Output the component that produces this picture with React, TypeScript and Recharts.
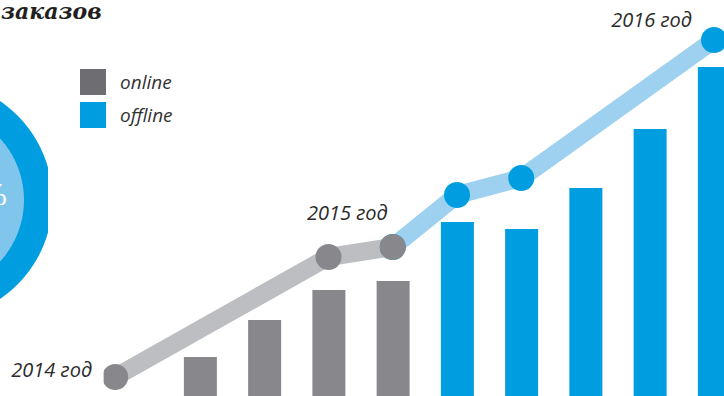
import { ComposedChart, Bar, Line, XAxis, YAxis, LabelList, Legend, PieChart, Pie } from 'recharts';

// x positions (bar slots), the first point is the 2014 start of the trend line
const xPositions = [-1.32, 0, 1, 2, 3, 4, 5, 6, 7, 8];
const onlineBars = [null, 43, 80, 110, 119, null, null, null, null, null];
const offlineBars = [null, null, null, null, null, 178, 171, 212, 271, 333];
const onlineTrend = [23, null, null, 143, 153, null, null, null, null, null];
const offlineTrend = [null, null, null, null, 153, 205, 222, null, null, 360];
const yearLabels = ['2014 год', '', '', '', '2015 год', '', '', '', '', '2016 год'];
const legendOrder = ['online', 'offline'];
const donutShare = [{ name: 'offline', value: 1 }];

const GRAY_BAR = '#88888c';
const BLUE_BAR = '#009ee0';
const GRAY_LINE = '#bdbec1';
const BLUE_LINE = '#9ed1ef';
const LEGEND_COLORS: Record<string, string> = { online: '#6e6e72', offline: '#009ee0' };

const LABEL_OFFSET: Record<string, { dx: number; dy: number }> = {
  '2014 год': { dx: -23, dy: 0 },
  '2015 год': { dx: -5, dy: -27 },
  '2016 год': { dx: -22, dy: -13 },
};

const chartData = xPositions.map((x, i) => ({
  x,
  online: onlineBars[i],
  offline: offlineBars[i],
  onlineTrend: onlineTrend[i],
  offlineTrend: offlineTrend[i],
  year: yearLabels[i],
}));

const yearLabel = (skip: (i: number) => boolean) => (props: any) => {
  const { x, y, value, index } = props;
  if (!value || y == null || skip(index)) return null;
  const off = LABEL_OFFSET[value] || { dx: 0, dy: 0 };
  return (
    <text
      x={x + off.dx}
      y={y + off.dy}
      textAnchor="end"
      fill="#2b2b2b"
      style={{ font: 'italic 20px "Open Sans", sans-serif' }}
    >
      {value}
    </text>
  );
};

function LegendBox({ payload }: any) {
  const items = legendOrder
    .map((key) => (payload || []).find((p: any) => p.dataKey === key))
    .filter(Boolean);
  return (
    <div>
      {items.map((entry: any) => (
        <div key={entry.value} style={{ display: 'flex', alignItems: 'center', height: 26, marginBottom: 7 }}>
          <span style={{ width: 26, height: 26, background: LEGEND_COLORS[entry.value] || entry.color }} />
          <span
            style={{
              marginLeft: 14,
              font: 'italic 19px "Open Sans", sans-serif',
              lineHeight: '26px',
              color: '#333',
            }}
          >
            {entry.value}
          </span>
        </div>
      ))}
    </div>
  );
}

export default function App() {
  return (
    <div style={{ position: 'absolute', left: 0, top: 0, width: 724, height: 396, overflow: 'hidden', background: '#fff' }}>
      <div
        style={{
          position: 'absolute',
          left: 1,
          top: 1,
          font: 'italic bold 22px "DejaVu Serif", serif',
          lineHeight: '20px',
          color: '#231f20',
          whiteSpace: 'nowrap',
        }}
      >
        заказов
      </div>

      <div style={{ position: 'absolute', left: -192.5, top: 75 }}>
        <PieChart width={240} height={240}>
          <Pie data={donutShare} dataKey="value" cx={120} cy={120} innerRadius={0} outerRadius={92} fill="#80c5ec" stroke="none" isAnimationActive={false} />
          <Pie data={donutShare} dataKey="value" cx={120} cy={120} innerRadius={91} outerRadius={119.5} fill="#009ee0" stroke="none" isAnimationActive={false} />
        </PieChart>
      </div>
      <div
        style={{
          position: 'absolute',
          left: -60,
          top: 178,
          width: 67,
          textAlign: 'right',
          font: '32px "Liberation Serif", serif',
          lineHeight: '32px',
          color: '#fff',
        }}
      >
        %
      </div>

      <div style={{ position: 'absolute', left: 0, top: 0 }}>
        <ComposedChart width={780} height={400} data={chartData} margin={{ top: 0, right: 33.875, bottom: 0, left: 103.625 }}>
          <XAxis dataKey="x" type="number" domain={[-1.5, 8.5]} hide allowDataOverflow />
          <YAxis type="number" domain={[0, 400]} hide allowDataOverflow />
          <Legend
            layout="vertical"
            align="center"
            verticalAlign="middle"
            content={<LegendBox />}
            wrapperStyle={{ left: 80, top: 69, width: 120, height: 66 }}
          />
          <Bar dataKey="online" name="online" stackId="bars" fill={GRAY_BAR} barSize={33} isAnimationActive={false} />
          <Bar dataKey="offline" name="offline" stackId="bars" fill={BLUE_BAR} barSize={33} isAnimationActive={false} />
          <Line
            dataKey="offlineTrend"
            stroke={BLUE_LINE}
            strokeWidth={18}
            strokeLinejoin="round"
            connectNulls
            legendType="none"
            dot={{ r: 13, fill: BLUE_BAR, stroke: 'none' }}
            activeDot={false}
            isAnimationActive={false}
          >
            <LabelList dataKey="year" content={yearLabel((i) => onlineTrend[i] != null)} />
          </Line>
          <Line
            dataKey="onlineTrend"
            stroke={GRAY_LINE}
            strokeWidth={18}
            strokeLinejoin="round"
            connectNulls
            legendType="none"
            dot={{ r: 13, fill: GRAY_BAR, stroke: 'none' }}
            activeDot={false}
            isAnimationActive={false}
          >
            <LabelList dataKey="year" content={yearLabel(() => false)} />
          </Line>
        </ComposedChart>
      </div>
    </div>
  );
}
